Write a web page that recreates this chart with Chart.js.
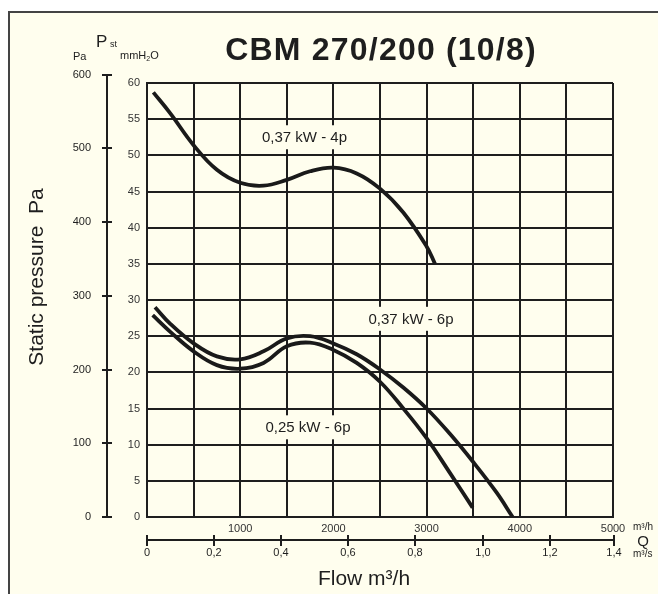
<!DOCTYPE html>
<html>
<head>
<meta charset="utf-8">
<script src="https://cdn.jsdelivr.net/npm/chart.js@4/dist/chart.umd.min.js"></script>
<style>
  body { margin: 0; background: #fff; }
  canvas { display: block; }
</style>
</head>
<body>
<canvas id="fanChart" width="658" height="594"></canvas>
<script>
// Curve data (Q in m3/h, Pst in mmH2O)
const q37kw4p = [68, 250, 500, 750, 1000, 1250, 1500, 1750, 2000, 2250, 2500, 2750, 3000, 3090];
const p37kw4p = [58.7, 55.8, 51.4, 48.0, 46.2, 45.8, 46.6, 47.8, 48.3, 47.5, 45.4, 42.1, 37.4, 35.0];

const q37kw6p = [86, 250, 500, 750, 1000, 1250, 1500, 1750, 2000, 2250, 2500, 2750, 3000, 3250, 3500, 3750, 3923];
const p37kw6p = [29.0, 26.7, 24.0, 22.2, 21.8, 22.9, 24.7, 25.0, 24.0, 22.5, 20.4, 17.9, 15.0, 11.5, 7.6, 3.4, 0];

const q25kw6p = [61, 250, 500, 750, 1000, 1250, 1500, 1750, 2000, 2250, 2500, 2750, 3000, 3250, 3494];
const p25kw6p = [27.9, 25.6, 22.9, 21.0, 20.5, 21.3, 23.6, 24.1, 23.1, 21.3, 18.7, 15.0, 10.9, 6.1, 1.3];

const curveNames = ["0,37 kW - 4p", "0,37 kW - 6p", "0,25 kW - 6p"];

// Secondary axes
const paTicks = [0, 100, 200, 300, 400, 500, 600];
const m3sTicks = [0, 0.2, 0.4, 0.6, 0.8, 1.0, 1.2, 1.4];
const PA_PER_MM = 9.81;
const M3H_PER_M3S = 3600;

// where the curve names sit (data coords)
const labelSpots = [
    { q: 1690, p: 52.5 },
    { q: 2833, p: 27.4 },
    { q: 1727, p: 12.4 }
];

const INK = "#1e1e1e";
const CREAM = "#fffeee";
const FONT = "Arial, 'Liberation Sans', sans-serif";

function toPoints(qs, ps) {
    return qs.map((q, i) => ({ x: q, y: ps[i] }));
}

function curve(qs, ps, name) {
    return {
        label: name,
        data: toPoints(qs, ps),
        showLine: true,
        borderColor: "#1a1a1a",
        borderWidth: 3.8,
        pointRadius: 0,
        tension: 0.4,
        fill: false
    };
}

const decorPlugin = {
    id: "decor",
    beforeDraw(chart) {
        const ctx = chart.ctx;
        ctx.save();
        ctx.fillStyle = "#fff";
        ctx.fillRect(0, 0, chart.width, chart.height);
        ctx.fillStyle = CREAM;
        ctx.fillRect(8, 11, chart.width, chart.height);
        ctx.strokeStyle = "#444";
        ctx.lineWidth = 2;
        ctx.beginPath();
        ctx.moveTo(9, chart.height);
        ctx.lineTo(9, 12);
        ctx.lineTo(chart.width, 12);
        ctx.stroke();
        ctx.restore();
    },
    beforeDatasetsDraw(chart) {
        const ctx = chart.ctx;
        const xs = chart.scales.x, ys = chart.scales.y;
        ctx.save();
        ctx.font = "15px " + FONT;
        ctx.textAlign = "center";
        ctx.textBaseline = "middle";
        labelSpots.forEach((spot, i) => {
            const cx = xs.getPixelForValue(spot.q);
            const cy = ys.getPixelForValue(spot.p);
            const w = ctx.measureText(curveNames[i]).width + 8;
            ctx.fillStyle = CREAM;
            ctx.fillRect(cx - w / 2, cy - 12, w, 24);
            ctx.fillStyle = INK;
            ctx.fillText(curveNames[i], cx, cy + 1);
        });
        ctx.restore();
    },
    afterDraw(chart) {
        const ctx = chart.ctx;
        const xs = chart.scales.x, ys = chart.scales.y;
        const area = chart.chartArea;
        ctx.save();
        ctx.fillStyle = INK;
        ctx.strokeStyle = INK;

        // title
        ctx.font = "bold 32px " + FONT;
        ctx.letterSpacing = "1.2px";
        ctx.textAlign = "center";
        ctx.textBaseline = "alphabetic";
        ctx.fillText("CBM 270/200 (10/8)", 381, 60);
        ctx.letterSpacing = "0px";

        // Pa axis
        const axX = area.left - 40;
        ctx.lineWidth = 2;
        ctx.beginPath();
        ctx.moveTo(axX, ys.getPixelForValue(0));
        ctx.lineTo(axX, ys.getPixelForValue(600 / PA_PER_MM));
        ctx.stroke();
        ctx.font = "11px " + FONT;
        ctx.textAlign = "right";
        ctx.textBaseline = "middle";
        paTicks.forEach(pa => {
            const y = Math.round(ys.getPixelForValue(pa / PA_PER_MM));
            ctx.beginPath();
            ctx.moveTo(axX - 5, y);
            ctx.lineTo(axX + 5, y);
            ctx.stroke();
            ctx.fillText(String(pa), axX - 16, y);
        });

        // m3/s axis
        const axY = 540;
        ctx.beginPath();
        ctx.moveTo(xs.getPixelForValue(0), axY);
        ctx.lineTo(xs.getPixelForValue(1.4 * M3H_PER_M3S) - 3, axY);
        ctx.stroke();
        ctx.textAlign = "center";
        m3sTicks.forEach((v, i) => {
            let x = Math.round(xs.getPixelForValue(v * M3H_PER_M3S));
            if (i === m3sTicks.length - 1) x -= 3;
            ctx.beginPath();
            ctx.moveTo(x, axY - 5);
            ctx.lineTo(x, axY + 6);
            ctx.stroke();
            const txt = v === 0 ? "0" : v.toFixed(1).replace(".", ",");
            ctx.fillText(txt, x, axY + 13);
        });

        // unit tags at right
        ctx.font = "10px " + FONT;
        ctx.textAlign = "left";
        ctx.fillText("m³/h", 633, 527);
        ctx.fillText("m³/s", 633, 554);
        ctx.font = "15px " + FONT;
        ctx.textAlign = "center";
        ctx.fillText("Q", 643, 542);

        // Pst / Pa / mmH2O header
        ctx.textAlign = "left";
        ctx.font = "11px " + FONT;
        ctx.fillText("Pa", 73, 57);
        ctx.font = "17px " + FONT;
        ctx.fillText("P", 96, 42);
        ctx.font = "9px " + FONT;
        ctx.fillText("st", 110, 45);
        ctx.font = "11px " + FONT;
        ctx.fillText("mmH", 120, 56);
        const mmW = ctx.measureText("mmH").width;
        ctx.font = "7px " + FONT;
        ctx.fillText("2", 120 + mmW, 59);
        ctx.font = "11px " + FONT;
        ctx.fillText("O", 124 + mmW, 56);

        // axis titles
        ctx.font = "21px " + FONT;
        ctx.textAlign = "center";
        ctx.textBaseline = "alphabetic";
        ctx.fillText("Flow m³/h", 364, 585);
        ctx.translate(43, 277);
        ctx.rotate(-Math.PI / 2);
        ctx.fillText("Static pressure  Pa", 0, 0);
        ctx.restore();
    }
};

const chart = new Chart(document.getElementById("fanChart"), {
    type: "scatter",
    data: {
        datasets: [
            curve(q37kw4p, p37kw4p, curveNames[0]),
            curve(q37kw6p, p37kw6p, curveNames[1]),
            curve(q25kw6p, p25kw6p, curveNames[2])
        ]
    },
    options: {
        responsive: false,
        animation: false,
        layout: { padding: { left: 107, right: 45, top: 83, bottom: 57 } },
        plugins: {
            legend: { display: false },
            tooltip: { enabled: false }
        },
        scales: {
            x: {
                type: "linear",
                min: 0,
                max: 5000,
                afterFit: s => { s.height = 20; },
                grid: { color: INK, lineWidth: 2, drawTicks: false },
                border: { color: INK, width: 2 },
                ticks: {
                    stepSize: 500,
                    autoSkip: false,
                    maxRotation: 0,
                    padding: 5,
                    color: "#333",
                    font: { size: 11, family: FONT },
                    callback: v => (v > 0 && v % 1000 === 0) ? String(v) : ""
                }
            },
            y: {
                type: "linear",
                min: 0,
                max: 60,
                afterFit: s => { s.width = 40; },
                grid: { color: INK, lineWidth: 2, drawTicks: false },
                border: { color: INK, width: 2 },
                ticks: {
                    stepSize: 5,
                    padding: 7,
                    color: "#333",
                    font: { size: 11, family: FONT }
                }
            }
        }
    },
    plugins: [decorPlugin]
});
</script>
</body>
</html>
